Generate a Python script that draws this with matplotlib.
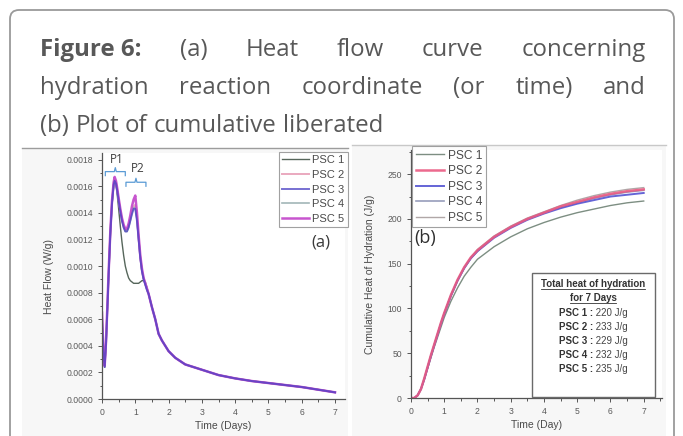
import matplotlib
matplotlib.use("Agg")
import matplotlib.pyplot as plt
from matplotlib.patches import FancyBboxPatch, Rectangle
from matplotlib.transforms import IdentityTransform
from matplotlib.lines import Line2D
from matplotlib.ticker import MultipleLocator, FormatStrFormatter

# ---------------- data ----------------
series = ["PSC 1", "PSC 2", "PSC 3", "PSC 4", "PSC 5"]

# (a) heat flow, W/g
hf_time = [0.00, 0.04, 0.08, 0.12, 0.16, 0.20, 0.25, 0.30, 0.35, 0.38, 0.42, 0.46,
           0.50, 0.55, 0.60, 0.65, 0.70, 0.75, 0.80, 0.85, 0.90, 0.95, 1.00, 1.05,
           1.10, 1.15, 1.20, 1.25, 1.30, 1.35, 1.40, 1.50, 1.60, 1.70, 1.80, 2.00,
           2.20, 2.50, 3.00, 3.50, 4.00, 4.50, 5.00, 5.50, 6.00, 6.50, 7.00]
hf_tail = [0.00069, 0.00060, 0.00049, 0.00044, 0.00036,
           0.00031, 0.00026, 0.00022, 0.00018, 0.000155, 0.000135, 0.00012,
           0.000105, 0.00009, 0.00007, 0.00005]
hf_psc1 = [0.00050, 0.00032, 0.00024, 0.00040, 0.00066, 0.00093, 0.00123, 0.00146,
           0.00160, 0.00164, 0.00161, 0.00153, 0.00143, 0.00130, 0.00118, 0.00108,
           0.00100, 0.00095, 0.00091, 0.00089, 0.00088, 0.00087, 0.00087, 0.00087,
           0.00087, 0.00088, 0.00089, 0.00089, 0.00088, 0.00084, 0.00079] + hf_tail
hf_psc2 = [0.00058, 0.00034, 0.00025, 0.00042, 0.00068, 0.00095, 0.00125, 0.00148,
           0.00162, 0.00166, 0.00163, 0.00157, 0.00150, 0.00142, 0.00135, 0.00130,
           0.00127, 0.00127, 0.00130, 0.00135, 0.00141, 0.00145, 0.00146, 0.00136,
           0.00121, 0.00107, 0.00097, 0.00091, 0.00087, 0.00083, 0.00079] + hf_tail
hf_psc3 = [0.00062, 0.00036, 0.00024, 0.00041, 0.00067, 0.00094, 0.00124, 0.00147,
           0.00161, 0.00164, 0.00162, 0.00156, 0.00149, 0.00141, 0.00134, 0.00129,
           0.00126, 0.00126, 0.00129, 0.00134, 0.00139, 0.00143, 0.00143, 0.00134,
           0.00120, 0.00106, 0.00096, 0.00090, 0.00086, 0.00082, 0.00079] + hf_tail
hf_psc4 = [0.00055, 0.00033, 0.00024, 0.00041, 0.00067, 0.00094, 0.00124, 0.00147,
           0.00161, 0.00165, 0.00162, 0.00156, 0.00149, 0.00141, 0.00134, 0.00129,
           0.00126, 0.00126, 0.00129, 0.00134, 0.00140, 0.00144, 0.00144, 0.00135,
           0.00120, 0.00106, 0.00096, 0.00090, 0.00086, 0.00082, 0.00079] + hf_tail
hf_psc5 = [0.00065, 0.00037, 0.00025, 0.00043, 0.00069, 0.00096, 0.00126, 0.00149,
           0.00163, 0.00167, 0.00164, 0.00158, 0.00151, 0.00143, 0.00136, 0.00131,
           0.00128, 0.00128, 0.00132, 0.00138, 0.00145, 0.00150, 0.00153, 0.00140,
           0.00123, 0.00108, 0.00098, 0.00091, 0.00087, 0.00083, 0.00079] + hf_tail

# (b) cumulative heat of hydration, J/g
cum_time = [0.0, 0.1, 0.2, 0.3, 0.4, 0.5, 0.6, 0.7, 0.8, 0.9, 1.0, 1.2, 1.4, 1.6,
            1.8, 2.0, 2.5, 3.0, 3.5, 4.0, 4.5, 5.0, 5.5, 6.0, 6.5, 7.0]
cum_psc1 = [0, 0, 3, 10, 21, 33, 45, 57, 68, 79, 90, 108, 123, 136, 146, 155,
            169, 180, 189, 196, 202, 207, 211, 215, 218, 220]
cum_psc2 = [0, 0, 3, 10, 22, 35, 48, 60, 72, 84, 95, 115, 132, 146, 157, 165,
            180, 191, 200, 207, 214, 219, 224, 228, 231, 233]
cum_psc3 = [0, 0, 3, 10, 21, 34, 47, 59, 71, 83, 94, 114, 131, 145, 156, 164,
            179, 190, 199, 206, 212, 217, 221, 225, 227, 229]
cum_psc4 = [0, 0, 3, 10, 21, 34, 47, 59, 71, 83, 94, 114, 131, 145, 156, 164,
            180, 191, 200, 207, 213, 218, 223, 227, 230, 232]
cum_psc5 = [0, 0, 3, 10, 22, 35, 48, 60, 72, 84, 95, 115, 132, 146, 157, 166,
            181, 192, 201, 208, 215, 221, 226, 230, 233, 235]

total_heat = [220, 233, 229, 232, 235]

hf_ticks = [0.0000, 0.0002, 0.0004, 0.0006, 0.0008, 0.0010, 0.0012, 0.0014, 0.0016, 0.0018]
cum_ticks = [0, 50, 100, 150, 200, 250]
day_ticks = [0, 1, 2, 3, 4, 5, 6, 7]

peak_labels = ["P1", "P2"]
peak_times = [0.40, 1.02]

title_lines = [
    ["Figure 6:", "(a)", "Heat", "flow", "curve", "concerning"],
    ["hydration", "reaction", "coordinate", "(or", "time)", "and"],
    ["(b)", "Plot", "of", "cumulative", "liberated"],
]

# ---------------- styling ----------------
W, H = 683, 436
DPI = 100
fig = plt.figure(figsize=(W / DPI, H / DPI), dpi=DPI)
fig.patch.set_facecolor("white")

TICK_FONT = ["Liberation Sans", "DejaVu Sans"]
TXT = "#4a4a4a"
TITLE_C = "#585858"

colors_a = ["#4d5e52", "#e8a0b8", "#4a40c4", "#98aeb0", "#c44ccc"]
widths_a = [1.0, 1.4, 1.4, 1.2, 1.8]
alpha_a = [0.95, 0.9, 0.75, 0.9, 0.95]
draw_order_a = [0, 1, 3, 4, 2]
colors_b = ["#6f8275", "#ea5a82", "#5454d2", "#8c92b4", "#a89e9e"]
widths_b = [1.0, 1.8, 1.4, 1.2, 1.0]


def box(x0, y0, x1, y1):
    return [x0 / W, 1 - y1 / H, (x1 - x0) / W, (y1 - y0) / H]


# outer rounded frame
frame = FancyBboxPatch((10, -20), 664, H - 10 + 20,
                       boxstyle="round,pad=0,rounding_size=9",
                       transform=IdentityTransform(), facecolor="white",
                       edgecolor="#9a9a9a", linewidth=1.3, zorder=-3)
fig.patches.append(frame)

# panel backgrounds
for (x0, y0, x1, c) in [(22, 148, 348, "#9c9c9c"), (352, 145, 666, "#c8c8c8")]:
    fig.patches.append(Rectangle((x0, 0), x1 - x0, H - y0, transform=IdentityTransform(),
                                 facecolor="#f7f7f7", edgecolor="none", zorder=-2))
    fig.lines.append(Line2D([x0, x1], [H - y0, H - y0], transform=IdentityTransform(),
                            color=c, linewidth=1.0, zorder=-1))

# justified title
renderer = fig.canvas.get_renderer()
TITLE_FAMILY = ["Open Sans", "DejaVu Sans"]
LEFT, RIGHT = 40, 646


def text_width(s, size, weight, family):
    t = fig.text(0, 0, s, fontsize=size, family=family, weight=weight)
    w = t.get_window_extent(renderer).width
    t.remove()
    return w

base = 18.0
natural = text_width(" ".join(title_lines[2]), base, "normal", TITLE_FAMILY)
tsize = base * 342 / natural
baselines = [55.5, 94, 132.5]
for li, words in enumerate(title_lines):
    weights = ["bold" if (li == 0 and wi == 0) else "normal" for wi in range(len(words))]
    widths = [text_width(w, tsize, wt, TITLE_FAMILY) for w, wt in zip(words, weights)]
    if li < 2:
        gap = (RIGHT - LEFT - sum(widths)) / (len(words) - 1)
    else:
        gap = (text_width("a b", tsize, "normal", TITLE_FAMILY)
               - text_width("ab", tsize, "normal", TITLE_FAMILY))
    x = LEFT
    for w, wt, ww in zip(words, weights, widths):
        fig.text(x / W, 1 - baselines[li] / H, w, fontsize=tsize, family=TITLE_FAMILY,
                 weight=wt, color=TITLE_C, va="baseline", ha="left")
        x += ww + gap


def style_axes(ax):
    ax.set_facecolor("white")
    for s in ["top", "right"]:
        ax.spines[s].set_visible(False)
    for s in ["left", "bottom"]:
        ax.spines[s].set_color("#555555")
        ax.spines[s].set_linewidth(0.9)
    ax.tick_params(which="both", direction="out", colors="#555555", labelsize=6.2,
                   labelcolor="#5a5a5a", width=0.7)
    ax.tick_params(which="major", length=3)
    ax.tick_params(which="minor", length=1.8)
    for lab in ax.get_xticklabels() + ax.get_yticklabels():
        lab.set_family(TICK_FONT)


# ---------------- (a) heat flow ----------------
axa = fig.add_axes(box(102, 153, 345, 399))
hf_series = [hf_psc1, hf_psc2, hf_psc3, hf_psc4, hf_psc5]
handles_a = {}
for i in draw_order_a:
    ln, = axa.plot(hf_time, hf_series[i], color=colors_a[i], lw=widths_a[i],
                   label=series[i], alpha=alpha_a[i])
    handles_a[i] = ln
axa.set_xlim(0, 7.3)
axa.set_ylim(0, 0.00185)
axa.set_xticks(day_ticks)
axa.set_yticks(hf_ticks)
axa.xaxis.set_minor_locator(MultipleLocator(0.5))
axa.yaxis.set_minor_locator(MultipleLocator(0.0001))
axa.yaxis.set_major_formatter(FormatStrFormatter("%.4f"))
style_axes(axa)
axa.set_xlabel("Time (Days)", fontsize=7.5, family=TICK_FONT, color=TXT, labelpad=3)
axa.set_ylabel("Heat Flow (W/g)", fontsize=7.5, family=TICK_FONT, color=TXT, labelpad=9)

leg_a = axa.legend([handles_a[i] for i in range(5)], series, loc="upper right",
                   bbox_to_anchor=(348 / W, 1 - 152 / H),
                   bbox_transform=fig.transFigure, fontsize=8, frameon=True,
                   fancybox=False, handlelength=2.4, handletextpad=0.3,
                   labelspacing=0.42, borderpad=0.3, borderaxespad=0)
leg_a.get_frame().set_edgecolor("#8a8a8a")
leg_a.get_frame().set_linewidth(0.8)
for t in leg_a.get_texts():
    t.set_color(TXT)
    t.set_family(TICK_FONT)
axa.text(321 / W, 1 - 242 / H, "(a)", transform=fig.transFigure, fontsize=12,
         color="#3a3a3a", ha="center", va="center", family=["Open Sans", "DejaVu Sans"])

# peak braces
brace_y = [0.00171, 0.00163]
text_y = [0.00180, 0.00173]
half = 0.30
nub = 0.00003
for lab, tp, by, ty in zip(peak_labels, peak_times, brace_y, text_y):
    axa.plot([tp - half, tp - half, tp - 0.03, tp, tp + 0.03, tp + half, tp + half],
             [by - nub, by, by, by + nub, by, by, by - nub],
             color="#5b9bd5", lw=0.9, clip_on=False)
    axa.text(tp + 0.05, ty, lab, fontsize=8.5, color="#3f3f3f", ha="center", va="center",
             family=["Open Sans", "DejaVu Sans"])

# ---------------- (b) cumulative heat ----------------
axb = fig.add_axes(box(411, 150, 662, 398))
cum_series = [cum_psc1, cum_psc2, cum_psc3, cum_psc4, cum_psc5]
order = [0, 4, 3, 2, 1]
lines = {}
for i in order:
    ln, = axb.plot(cum_time, cum_series[i], color=colors_b[i], lw=widths_b[i],
                   label=series[i], alpha=0.9)
    lines[i] = ln
axb.set_xlim(0, 7.55)
axb.set_ylim(0, 277)
axb.set_xticks(day_ticks)
axb.set_yticks(cum_ticks)
axb.xaxis.set_minor_locator(MultipleLocator(0.5))
axb.yaxis.set_minor_locator(MultipleLocator(25))
style_axes(axb)
axb.set_xlabel("Time (Day)", fontsize=7.5, family=TICK_FONT, color=TXT, labelpad=3)
axb.set_ylabel("Cumulative Heat of Hydration (J/g)", fontsize=7.5, family=TICK_FONT,
               color=TXT, labelpad=9)

leg_b = axb.legend([lines[i] for i in range(5)], series, loc="upper left",
                   bbox_to_anchor=(412 / W, 1 - 146 / H), bbox_transform=fig.transFigure,
                   fontsize=8.6, frameon=True, fancybox=False, handlelength=2.4,
                   handletextpad=0.3, labelspacing=0.3, borderpad=0.3, borderaxespad=0)
leg_b.get_frame().set_edgecolor("#8a8a8a")
leg_b.get_frame().set_linewidth(0.8)
for t in leg_b.get_texts():
    t.set_color(TXT)
    t.set_family(TICK_FONT)
axb.text(425 / W, 1 - 238 / H, "(b)", transform=fig.transFigure, fontsize=13,
         color="#2f2f2f", ha="center", va="center", family=["Open Sans", "DejaVu Sans"])

# summary box
fig.patches.append(Rectangle((532, H - 397), 123, 124, transform=IdentityTransform(),
                             facecolor="white", edgecolor="#6a6a6a", linewidth=1.0,
                             zorder=5))
cx = 593
BOX_FS = 7.0
head = [("Total heat of hydration", 283.5), ("for 7 Days", 297.5)]
for s, y_px in head:
    fig.text(cx / W, 1 - y_px / H, s, fontsize=BOX_FS, weight="bold",
             ha="center", va="center", color="#333333", family=TICK_FONT, zorder=6)
    hw = text_width(s, BOX_FS, "bold", TICK_FONT) / 2
    fig.lines.append(Line2D([cx - hw, cx + hw], [H - y_px - 5.5, H - y_px - 5.5],
                            transform=IdentityTransform(), color="#333333",
                            linewidth=0.6, zorder=6))
for k, (name, val) in enumerate(zip(series, total_heat)):
    y = 1 - (312.5 + 14.2 * k) / H
    fig.text(cx / W, y, f"{name} :", fontsize=BOX_FS, weight="bold", ha="right",
             va="center", color="#333333", family=TICK_FONT, zorder=6)
    fig.text(cx / W, y, f" {val} J/g", fontsize=BOX_FS, ha="left", va="center",
             color="#444444", family=TICK_FONT, zorder=6)

fig.savefig("out.png", dpi=DPI)
